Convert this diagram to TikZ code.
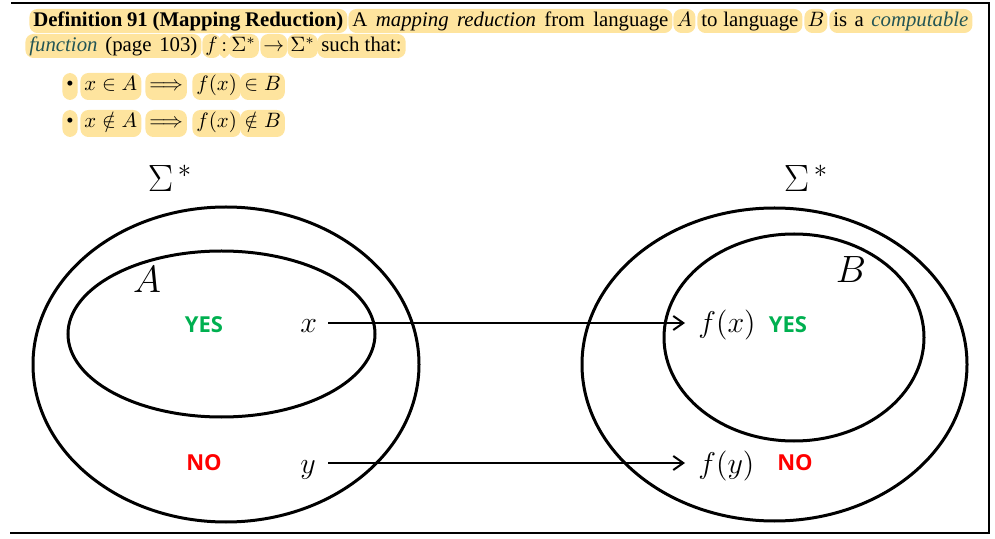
\RequirePackage{fix-cm}
\documentclass[tikz,border=0pt]{standalone}
\usepackage{fontspec}
\setmainfont{Liberation Serif}
\newfontfamily\labelsans{Open Sans}
\usetikzlibrary{arrows.meta}
\definecolor{hlc}{RGB}{254,228,158}
\definecolor{linkc}{RGB}{35,85,85}
\definecolor{yesc}{RGB}{0,176,80}
\definecolor{noc}{RGB}{255,0,0}
\begin{document}
\begin{tikzpicture}[x=0.5pt,y=-0.5pt,
  hl/.style={fill=hlc, rounded corners=4pt, inner xsep=2pt, inner ysep=0pt,
    text height=9pt, text depth=3pt, anchor=base west,
    font=\fontsize{10.4}{12.5}\selectfont},
  hlm/.style={hl, text height=9pt, text depth=4.5pt},
  lab/.style={inner sep=0pt, font=\fontsize{15}{18}\selectfont},
  big/.style={inner sep=0pt, font=\fontsize{19}{22}\selectfont},
  ans/.style={inner sep=0pt, font=\labelsans\bfseries\fontsize{11}{13}\selectfont},
  setline/.style={line width=1.5pt},
  arr/.style={line width=1pt, -{Straight Barb[length=5pt,width=7pt]}}]
\useasboundingbox (0,0) rectangle (995,539);
% frame
\draw[line width=0.8pt] (11,3) -- (989,3) -- (989,533) -- (10,533);
% line 1
\node[hl] (d1) at (29,27) {\makebox[155pt][s]{\textbf{Definition 91 (Mapping Reduction)}}};
\node[hl] (d2) at (348,27) {\makebox[158pt][s]{A \textit{mapping reduction} from language}};
\node[hl] (d3) at (673,27) {\makebox[7pt]{$A$}};
\node[hl] (d4) at (697,27) {\makebox[48.5pt][s]{to language}};
\node[hl] (d5) at (804,27) {\makebox[7.5pt]{$B$}};
\node[hl] (d6) at (829,27) {\makebox[67.5pt][s]{is a \textit{\color{linkc}computable}}};
% line 2
\node[hl] (e1) at (25,52) {\makebox[84pt][s]{\textit{\color{linkc}function} (page 103)}};
\node[hl, inner xsep=1.5pt] (e2) at (202,52) {$f$};
\node[hl, inner xsep=1.5pt] (e3) at (218,52) {$:$};
\node[hl, inner xsep=1.5pt] (e4) at (228,52) {$\Sigma^*$};
\node[hl, inner xsep=1.5pt] (e5) at (260,52) {$\rightarrow$};
\node[hl, inner xsep=1.5pt] (e6) at (287,52) {$\Sigma^*$};
\node[hl] (e7) at (317,52) {such that:};
% bullets
\node[hlm] (b1) at (62,91) {\textbullet};
\node[hlm] (b2) at (80,91) {$x\in A$};
\node[hlm] (b3) at (145,91) {$\Longrightarrow$};
\node[hlm] (b4) at (192,91) {$f(x)$};
\node[hlm] (b5) at (240,91) {$\in B$};
\node[hlm] (c1) at (62,128) {\textbullet};
\node[hlm] (c2) at (80,128) {$x\notin A$};
\node[hlm] (c3) at (145,128) {$\Longrightarrow$};
\node[hlm] (c4) at (192,128) {$f(x)$};
\node[hlm] (c5) at (240,128) {$\notin B$};
% sets
\draw[setline] (226,364.5) ellipse [x radius=193, y radius=157.5];
\draw[setline] (221.5,334) ellipse [x radius=153.5, y radius=83];
\draw[setline] (774.5,364.5) ellipse [x radius=192.5, y radius=156.5];
\draw[setline] (794,337.5) ellipse [x radius=130, y radius=103.5];
% labels
\node[big] (sigL) at (170,178) {$\Sigma^{\,*}$};
\node[big] (sigR) at (806,178) {$\Sigma^{\,*}$};
\node[big] (labA) at (147,280) {$A$};
\node[big] (labB) at (851,270) {$B$};
\node[ans, text=yesc] (yesL) at (204,325) {YES};
\node[ans, text=noc] (noL) at (204,463) {NO};
\node[ans, text=yesc] (yesR) at (788,325) {YES};
\node[ans, text=noc] (noR) at (795,463) {NO};
\node[lab, anchor=base west] (x) at (300,333) {$x$};
\node[lab, anchor=base west] (y) at (300,473) {$y$};
\node[lab, anchor=base west] (fx) at (698,333) {$f(x)$};
\node[lab, anchor=base west] (fy) at (698,473) {$f(y)$};
\draw[arr] ([shift={(28,-10)}]x.base west) -- ([shift={(-13,-10)}]fx.base west);
\draw[arr] ([shift={(28,-10)}]y.base west) -- ([shift={(-13,-10)}]fy.base west);
\end{tikzpicture}
\end{document}
